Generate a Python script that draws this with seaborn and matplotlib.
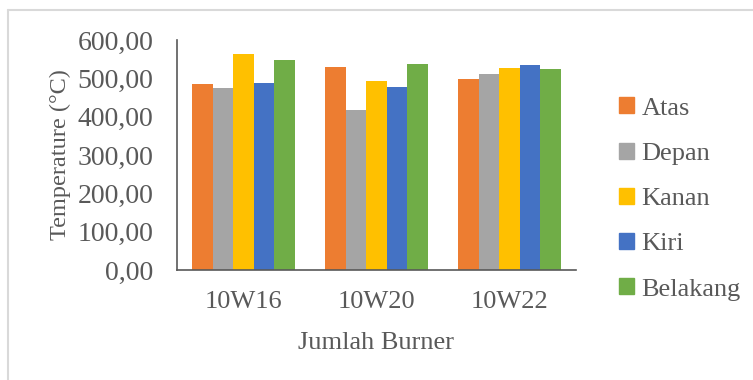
import numpy as np
import pandas as pd
import seaborn as sns
import matplotlib.pyplot as plt
from matplotlib.lines import Line2D
from matplotlib.ticker import MultipleLocator, FuncFormatter

# data
burners = ["10W16", "10W20", "10W22"]
sides = ["Atas", "Depan", "Kanan", "Kiri", "Belakang"]
atas = [485, 530, 499]
depan = [475, 417, 511]
kanan = [564, 494, 528]
kiri = [489, 477, 534]
belakang = [549, 538, 525]
colors = ["#ED7D31", "#A5A5A5", "#FFC000", "#4472C4", "#70AD47"]

df = pd.DataFrame({
    "Jumlah Burner": np.repeat(burners, len(sides)),
    "Sisi": sides * len(burners),
    "Temperature": [v for i in range(len(burners))
                    for v in (atas[i], depan[i], kanan[i], kiri[i], belakang[i])],
})

sns.set_style("white")
plt.rcParams["font.family"] = ["Liberation Serif", "DejaVu Serif"]
txt = "#595959"
axc = "#595959"

fig = plt.figure(figsize=(7.53, 3.80), dpi=100)
ax = fig.add_axes([177 / 753, 1 - 270 / 380, 399 / 753, 230 / 380])

sns.barplot(data=df, x="Jumlah Burner", y="Temperature", hue="Sisi",
            hue_order=sides, palette=colors, width=0.77, saturation=1,
            edgecolor="none", ax=ax)

ax.set_xlim(-0.5, 2.5)
ax.set_ylim(0, 600)
for s in ["top", "right"]:
    ax.spines[s].set_visible(False)
for s in ["left", "bottom"]:
    ax.spines[s].set_color(axc)
    ax.spines[s].set_linewidth(1.2)

ax.yaxis.set_major_locator(MultipleLocator(100))
ax.yaxis.set_minor_locator(MultipleLocator(20))
ax.yaxis.set_major_formatter(FuncFormatter(lambda v, p: f"{v:.2f}".replace(".", ",")))
ax.tick_params(axis="y", which="major", direction="inout", length=8, width=1.2,
               color=axc, labelsize=20, labelcolor=txt, pad=13)
ax.tick_params(axis="y", which="minor", direction="in", length=5, width=1.2, color=axc)
ax.set_xticks(np.arange(-0.5, 3, 1), minor=True)
ax.tick_params(axis="x", which="major", direction="out", length=5, width=1.2,
               color=axc, labelsize=19, labelcolor=txt, pad=10)
ax.tick_params(axis="x", which="minor", direction="inout", length=12, width=1.2, color=axc)

ax.set_xlabel("Jumlah Burner", fontsize=19, color=txt, labelpad=14)
ax.set_ylabel("Temperature (°C)", fontsize=17.5, color=txt, labelpad=5)

handles = [plt.Rectangle((0, 0), 1, 1, color=c) for c in colors]
ax.legend(handles, sides, loc="center left", bbox_to_anchor=(619 / 753, 1 - 199 / 380),
          bbox_transform=fig.transFigure, frameon=False, fontsize=19,
          labelcolor=txt, handlelength=0.55, handleheight=0.55, handletextpad=0.3,
          labelspacing=0.87, borderaxespad=0, borderpad=0)

# chart border (light gray)
fig.add_artist(Line2D([8 / 753, 8 / 753], [0, 1 - 10 / 380], color="#D9D9D9",
                      lw=1.5, transform=fig.transFigure))
fig.add_artist(Line2D([8 / 753, 1], [1 - 10 / 380, 1 - 10 / 380], color="#D9D9D9",
                      lw=1.5, transform=fig.transFigure))

fig.savefig("out.png", dpi=100)
